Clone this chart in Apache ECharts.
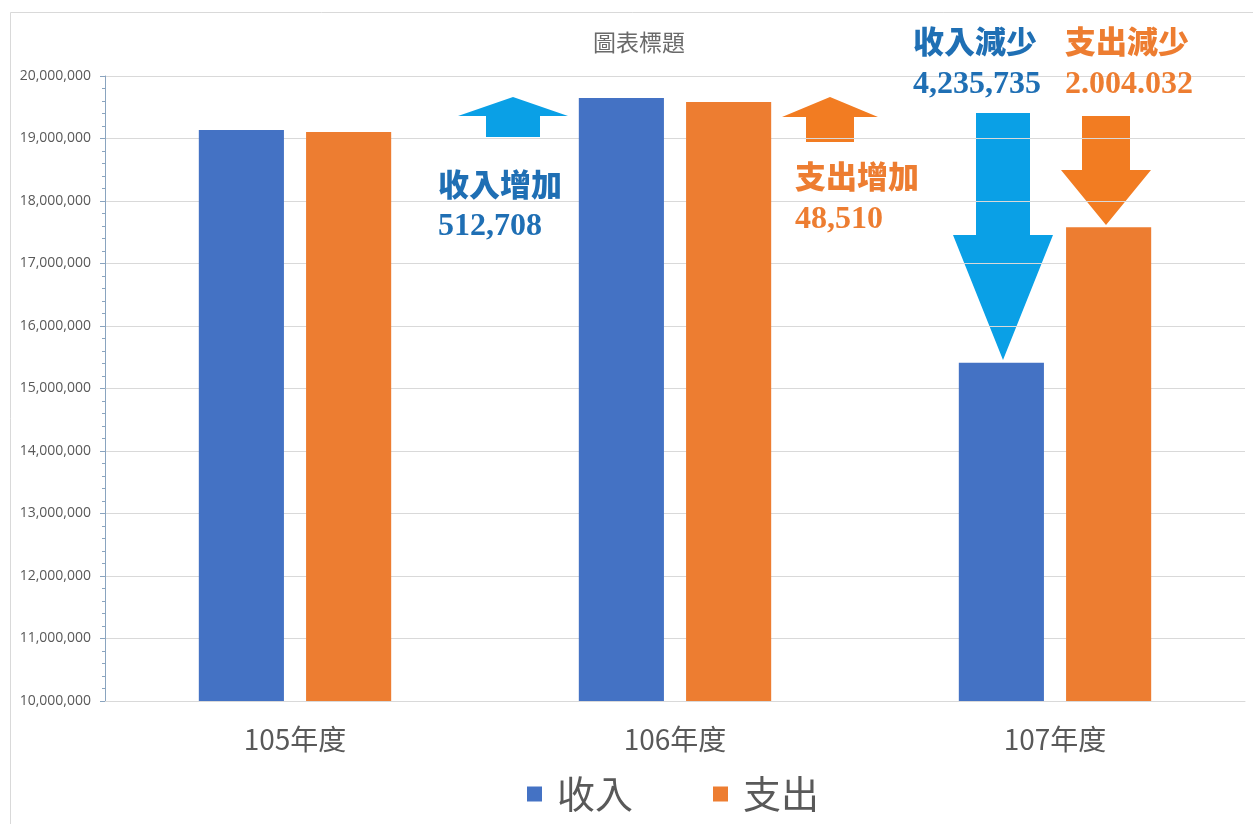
<!DOCTYPE html>
<html>
<head>
<meta charset="utf-8">
<script src="https://cdn.jsdelivr.net/npm/echarts@6/dist/echarts.min.js"></script>
<style>
html,body{margin:0;padding:0;background:#fff;}
#chart{width:1253px;height:824px;}
</style>
</head>
<body>
<div id="chart"></div>
<script>
const categories = ['105年度', '106年度', '107年度'];
const incomeValues = [19136000, 19648708, 15412973];
const expenseValues = [19104000, 19584000, 17580000];
const seriesNames = ['收入', '支出'];
const chartTitle = '圖表標題';
const yMin = 10000000, yMax = 20000000, yInterval = 1000000;

const notes = [
  { text: '收入增加', x: 438, y: 188, color: '#1f6fb4', size: 31 },
  { text: '512,708', x: 438, y: 227, color: '#1f6fb4', size: 32 },
  { text: '支出增加', x: 795, y: 180, color: '#ed7d31', size: 31 },
  { text: '48,510', x: 795, y: 220, color: '#ed7d31', size: 32 },
  { text: '收入減少', x: 913, y: 45, color: '#1f6fb4', size: 31 },
  { text: '4,235,735', x: 913, y: 85, color: '#1f6fb4', size: 32 },
  { text: '支出減少', x: 1065, y: 45, color: '#ed7d31', size: 31 },
  { text: '2.004.032', x: 1065, y: 85, color: '#ed7d31', size: 32 }
];

function upArrow(cx, tipY, headW, headBaseY, shaftW, bottomY, color) {
  return {
    type: 'polygon',
    shape: { points: [
      [cx, tipY], [cx + headW / 2, headBaseY], [cx + shaftW / 2, headBaseY],
      [cx + shaftW / 2, bottomY], [cx - shaftW / 2, bottomY], [cx - shaftW / 2, headBaseY],
      [cx - headW / 2, headBaseY]
    ] },
    style: { fill: color }
  };
}
function downArrow(cx, topY, shaftW, headBaseY, headW, tipY, color) {
  return {
    type: 'polygon',
    shape: { points: [
      [cx - shaftW / 2, topY], [cx + shaftW / 2, topY], [cx + shaftW / 2, headBaseY],
      [cx + headW / 2, headBaseY], [cx, tipY], [cx - headW / 2, headBaseY],
      [cx - shaftW / 2, headBaseY]
    ] },
    style: { fill: color }
  };
}

const graphics = [
  { type: 'rect', shape: { x: 10.5, y: 12.5, width: 1260, height: 830 }, style: { fill: 'none', stroke: '#d9d9d9', lineWidth: 1 }, z: -1 },
  upArrow(513, 97, 110, 116, 54, 137, '#0aa0e6'),
  upArrow(830, 97, 96, 117, 48, 142, '#f27c22'),
  downArrow(1003, 113, 54, 235, 100, 360, '#0aa0e6'),
  downArrow(1106, 116, 48, 170, 90, 225, '#f27c22')
];
notes.forEach(n => {
  graphics.push({
    type: 'text', x: n.x, y: n.y,
    style: {
      text: n.text, fill: n.color,
      font: '900 ' + n.size + 'px "Liberation Serif", "Noto Sans CJK TC", serif',
      verticalAlign: 'middle', align: 'left'
    },
    z: 10
  });
});

const chart = echarts.init(document.getElementById('chart'));
chart.setOption({
  backgroundColor: '#ffffff',
  animation: false,
  title: {
    text: chartTitle, left: 588, top: 26,
    textStyle: { fontSize: 23, fontWeight: 'normal', color: '#6a6a6a', fontFamily: '"Noto Sans CJK TC", sans-serif' }
  },
  grid: { left: 105, right: 8, top: 76, bottom: 123, containLabel: false },
  legend: {
    data: seriesNames, bottom: 6, left: 522, itemWidth: 15, itemHeight: 15, itemGap: 80,
    icon: 'rect',
    textStyle: { fontSize: 38, color: '#595959', padding: [0, 0, 0, 10], fontFamily: '"Noto Sans CJK TC", sans-serif' }
  },
  xAxis: {
    type: 'category', data: categories,
    axisLine: { lineStyle: { color: '#d9d9d9' } },
    axisTick: { show: false },
    axisLabel: { fontSize: 28, color: '#595959', margin: 24, fontFamily: '"Noto Sans CJK TC", sans-serif' }
  },
  yAxis: {
    type: 'value', min: yMin, max: yMax, interval: yInterval,
    axisLine: { show: true, lineStyle: { color: '#8aa4bf' } },
    axisTick: { show: true, inside: false, length: 5, lineStyle: { color: '#8aa4bf' } },
    minorTick: { show: true, splitNumber: 5, length: 3, lineStyle: { color: '#8aa4bf' } },
    splitLine: { lineStyle: { color: '#d9d9d9' } },
    axisLabel: {
      fontSize: 14, color: '#595959', margin: 14, fontFamily: '"Open Sans", sans-serif',
      formatter: v => v.toLocaleString('en-US')
    }
  },
  series: [
    { name: seriesNames[0], type: 'bar', data: incomeValues, barWidth: '22.4%', barGap: '26%', itemStyle: { color: '#4472c4' } },
    { name: seriesNames[1], type: 'bar', data: expenseValues, barWidth: '22.4%', barGap: '26%', itemStyle: { color: '#ed7d31' } }
  ],
  graphic: graphics
});
</script>
</body>
</html>
